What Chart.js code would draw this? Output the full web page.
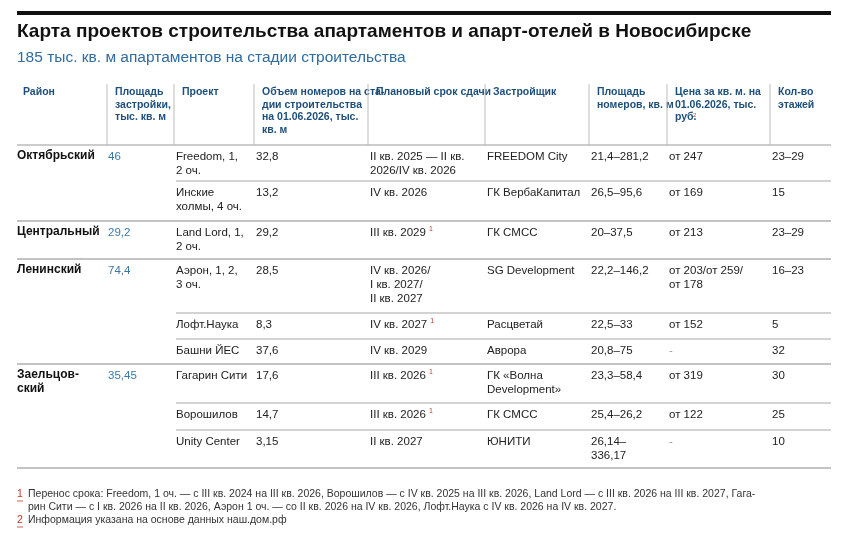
<!DOCTYPE html>
<html lang="ru">
<head>
<meta charset="UTF-8">
<title>Апартаменты Новосибирск</title>
<script src="https://cdn.jsdelivr.net/npm/chart.js"></script>
<style>
  html, body { margin: 0; padding: 0; background: #fff; }
  #wrap { width: 847px; height: 535px; position: relative; }
</style>
</head>
<body>
<div id="wrap"><canvas id="tabla"></canvas></div>
<script>
const titulo = 'Карта проектов строительства апартаментов и апарт-отелей в Новосибирске';
const subtitulo = '185 тыс. кв. м апартаментов на стадии строительства';

const encabezados = [
  ['Район'],
  ['Площадь', 'застройки,', 'тыс. кв. м'],
  ['Проект'],
  ['Объем номеров на ста-', 'дии строительства', 'на 01.06.2026, тыс.', 'кв. м'],
  ['Плановый срок сдачи'],
  ['Застройщик'],
  ['Площадь', 'номеров, кв. м'],
  ['Цена за кв. м. на', '01.06.2026, тыс.', 'руб.'],
  ['Кол-во', 'этажей']
];

const rayones = ['Октябрьский', 'Центральный', 'Ленинский', 'Заельцов-\nский'];
const plosch = ['46', '29,2', '74,4', '35,45'];
const grupo = [0, 0, 1, 2, 2, 2, 3, 3, 3];
const proyectos = ['Freedom, 1,\n2 оч.', 'Инские\nхолмы, 4 оч.', 'Land Lord, 1,\n2 оч.', 'Аэрон, 1, 2,\n3 оч.',
  'Лофт.Наука', 'Башни ЙЕС', 'Гагарин Сити', 'Ворошилов', 'Unity Center'];
const volumen = ['32,8', '13,2', '29,2', '28,5', '8,3', '37,6', '17,6', '14,7', '3,15'];
const plazo = ['II кв. 2025 — II кв.\n2026/IV кв. 2026', 'IV кв. 2026', 'III кв. 2029¹', 'IV кв. 2026/\nI кв. 2027/\nII кв. 2027',
  'IV кв. 2027¹', 'IV кв. 2029', 'III кв. 2026¹', 'III кв. 2026¹', 'II кв. 2027'];
const constructor = ['FREEDOM City', 'ГК ВербаКапитал', 'ГК СМСС', 'SG Development', 'Расцветай', 'Аврора',
  'ГК «Волна\nDevelopment»', 'ГК СМСС', 'ЮНИТИ'];
const areaNum = ['21,4–281,2', '26,5–95,6', '20–37,5', '22,2–146,2', '22,5–33', '20,8–75', '23,3–58,4', '25,4–26,2', '26,14–\n336,17'];
const precio = ['от 247', 'от 169', 'от 213', 'от 203/от 259/\nот 178', 'от 152', '-', 'от 319', 'от 122', '-'];
const pisos = ['23–29', '15', '23–29', '16–23', '5', '32', '30', '25', '10'];

const notas = [
  ['1', 'Перенос срока: Freedom, 1 оч. — с III кв. 2024 на III кв. 2026, Ворошилов — с IV кв. 2025 на III кв. 2026, Land Lord — с III кв. 2026 на III кв. 2027, Гага-'],
  ['', 'рин Сити — с I кв. 2026 на II кв. 2026, Аэрон 1 оч. — со II кв. 2026 на IV кв. 2026, Лофт.Наука с IV кв. 2026 на IV кв. 2027.'],
  ['2', 'Информация указана на основе данных наш.дом.рф']
];

// раскладка (в пикселях шкал)
const colX = [17, 108, 176, 256, 370, 487, 591, 669, 772];
const headX = [23, 115, 182, 262, 376, 493, 597, 675, 778];
const sepX = [107, 174, 254, 368, 485, 589, 667, 770];
const filaY = [145, 181, 221, 259, 313, 339, 364, 403, 430, 468];

const AZUL = '#1d4f7c';
const CUERPO = '11.5px "Liberation Sans", Arial, sans-serif';
const NEG = 'bold 12px "Liberation Sans", Arial, sans-serif';
const ENC = 'bold 10.5px "Liberation Sans Narrow", "Liberation Sans", Arial, sans-serif';

const tablaPlugin = {
  id: 'tabla',
  afterDraw(chart) {
    const c = chart.ctx, sx = chart.scales.x, sy = chart.scales.y;
    const X = v => sx.getPixelForValue(v), Y = v => sy.getPixelForValue(v);
    c.save();
    c.textBaseline = 'top';

    function linea(x1, x2, y, color, w) {
      c.strokeStyle = color; c.lineWidth = w;
      c.beginPath(); c.moveTo(X(x1), Y(y)); c.lineTo(X(x2), Y(y)); c.stroke();
    }
    function texto(s, x, y, font, color, lh) {
      c.font = font;
      s.split('\n').forEach((ln, i) => {
        const sup = ln.endsWith('¹');
        const t = sup ? ln.slice(0, -1) : ln;
        c.fillStyle = color;
        c.fillText(t, X(x), Y(y + i * lh));
        if (sup) {
          const w = c.measureText(t).width;
          c.font = '7px "Liberation Sans", Arial';
          c.fillStyle = '#c0392b';
          c.fillText('1', X(x) + w + 3, Y(y + i * lh) - 1);
          c.font = font;
        }
      });
    }

    // верхняя линия
    c.fillStyle = '#111';
    c.fillRect(X(17), Y(11), X(831) - X(17), 4);
    c.font = 'bold 19px "Liberation Sans Narrow", "Liberation Sans", Arial';
    c.fillStyle = '#111';
    c.fillText(titulo, X(17), Y(22));
    c.font = '15.5px "Liberation Sans Narrow", "Liberation Sans", Arial';
    c.fillStyle = '#2f6c9f';
    c.fillText(subtitulo, X(17), Y(50));

    // заголовки
    encabezados.forEach((h, i) => {
      c.font = ENC; c.fillStyle = AZUL;
      h.forEach((ln, j) => c.fillText(ln, X(headX[i]), Y(87 + j * 12.5)));
    });
    c.font = '6px "Liberation Sans", Arial'; c.fillStyle = '#c0392b';
    c.fillText('2', X(693), Y(112));
    c.strokeStyle = '#bbb'; c.lineWidth = 1;
    sepX.forEach(x => { c.beginPath(); c.moveTo(X(x), Y(84)); c.lineTo(X(x), Y(filaY[0])); c.stroke(); });
    linea(17, 831, filaY[0], '#bbb', 1.5);

    // строки
    proyectos.forEach((p, r) => {
      const top = filaY[r] + 6;
      const nuevo = r === 0 || grupo[r] !== grupo[r - 1];
      if (r > 0) linea(nuevo ? 17 : 176, 831, filaY[r], nuevo ? '#888' : '#c4c4c4', nuevo ? 1.2 : 1.5);
      if (nuevo) {
        texto(rayones[grupo[r]], colX[0], top - 1, NEG, '#111', 14);
        texto(plosch[grupo[r]], colX[1], top, CUERPO, '#3a78a8', 14);
      }
      const celdas = [p, volumen[r], plazo[r], constructor[r], areaNum[r], precio[r], pisos[r]];
      celdas.forEach((s, k) => texto(s, colX[k + 2], top, CUERPO, s === '-' ? '#999' : '#222', 14));
    });
    linea(17, 831, filaY[filaY.length - 1], '#888', 1.2);

    // сноски
    notas.forEach((n, i) => {
      const y = 489 + i * 13;
      if (n[0]) {
        c.font = '10.5px "Liberation Sans", Arial'; c.fillStyle = '#c0392b';
        c.fillText(n[0], X(17), Y(y));
        linea(17, 23, y + 12, '#c0392b', 0.8);
      }
      c.font = '10.5px "Liberation Sans", Arial'; c.fillStyle = '#333';
      c.fillText(n[1], X(28), Y(y));
    });
    c.restore();
  }
};

new Chart(document.getElementById('tabla'), {
  type: 'scatter',
  data: { datasets: [{ data: [], pointRadius: 0 }] },
  options: {
    responsive: true,
    maintainAspectRatio: false,
    animation: false,
    layout: { padding: 0 },
    plugins: { legend: { display: false }, tooltip: { enabled: false } },
    scales: {
      x: { type: 'linear', min: 0, max: 847, display: false },
      y: { type: 'linear', min: 0, max: 535, reverse: true, display: false }
    }
  },
  plugins: [tablaPlugin]
});
</script>
</body>
</html>
